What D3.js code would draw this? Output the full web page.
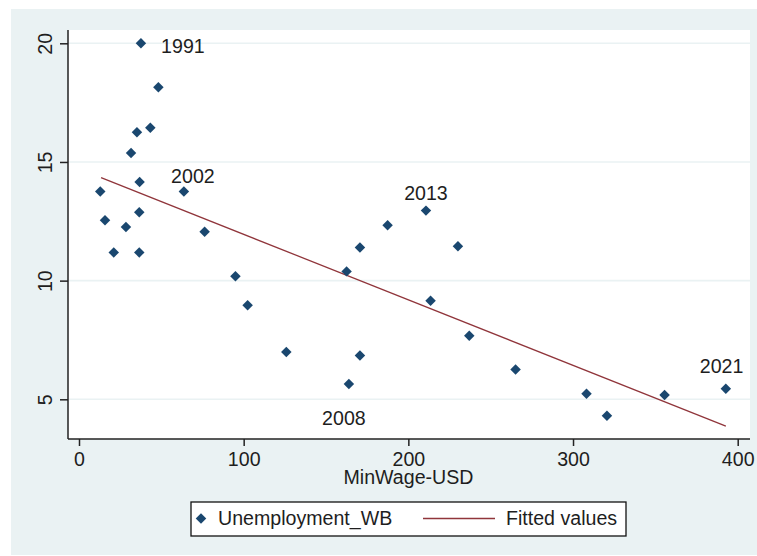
<!DOCTYPE html>
<html>
<head>
<meta charset="utf-8">
<script src="https://cdn.jsdelivr.net/npm/d3@7"></script>
<style>
  body { margin: 0; background: #fff; }
  text { font-family: "Liberation Sans", Arial, sans-serif; }
</style>
</head>
<body>
<div id="chart"></div>
<script>
// data: one point per year 1991..2021
var years = d3.range(1991, 2022);
var minWage = [37.6, 48.2, 43.3, 35.2, 31.6, 36.8, 12.9, 15.8, 36.6, 28.5, 21.1, 63.7,
               36.6, 76.3, 95.0, 102.4, 125.9, 163.9, 162.5, 170.6, 170.6, 187.4, 210.7,
               230.1, 213.5, 237.0, 265.1, 308.2, 320.6, 355.6, 392.8];
var unemployment = [20.0, 18.15, 16.44, 16.25, 15.38, 14.16, 13.76, 12.54, 12.88, 12.26, 11.19, 13.76,
                    11.19, 12.06, 10.18, 8.96, 6.99, 5.64, 10.39, 6.85, 11.4, 12.33, 12.95,
                    11.45, 9.15, 7.68, 6.26, 5.23, 4.31, 5.18, 5.44];
var fitX = [13.4, 392.8];
var fitY = [14.34, 3.87];
var xTicks = [0, 100, 200, 300, 400];
var yTicks = [5, 10, 15, 20];
var labelYears = [1991, 2002, 2008, 2013, 2021];

var W = 757, H = 556,
    plot = {left: 68, top: 30, right: 750, bottom: 439},
    bg = "#eaf2f3", navy = "#1a476f", maroon = "#90353b", fs = 19.6;

var svg = d3.select("#chart").append("svg").attr("width", W).attr("height", H);

//outer background
svg.append("rect").attr("x", 11).attr("y", 9).attr("width", W - 11).attr("height", H - 10).attr("fill", bg);
//plot region
svg.append("rect").attr("x", plot.left).attr("y", plot.top)
   .attr("width", plot.right - plot.left).attr("height", plot.bottom - plot.top).attr("fill", "#fff");

var x = d3.scaleLinear().domain([0, 400]).range([79, 737.7]);
var y = d3.scaleLinear().domain([5, 20]).range([399.3, 43.3]);

//gridlines
svg.selectAll(".grid").data(yTicks).enter().append("line")
   .attr("x1", plot.left).attr("x2", plot.right)
   .attr("y1", function(d) { return y(d); }).attr("y2", function(d) { return y(d); })
   .attr("stroke", bg).attr("stroke-width", 1.6);

//axes
var xAxis = svg.append("g").attr("transform", "translate(0," + plot.bottom + ")")
   .call(d3.axisBottom(x).tickValues(xTicks).tickSize(7).tickPadding(5).tickFormat(d3.format("d")));
xAxis.select(".domain").attr("d", "M" + plot.left + ",0H" + plot.right);
var yAxis = svg.append("g").attr("transform", "translate(" + plot.left + ",0)")
   .call(d3.axisLeft(y).tickValues(yTicks).tickSize(8).tickFormat(d3.format("d")));
yAxis.select(".domain").attr("d", "M0," + plot.top + "V" + plot.bottom);
[xAxis, yAxis].forEach(function(a) {
  a.selectAll("path, line").attr("stroke", "#222").attr("stroke-width", 1.5);
  a.selectAll("text").attr("fill", "#1e1e1e").style("font-size", fs + "px")
   .style("font-family", "'Liberation Sans', Arial, sans-serif");
});
xAxis.selectAll("text").attr("y", 13).attr("dy", "0.71em");
yAxis.selectAll("text")
   .attr("x", null).attr("dy", null).attr("text-anchor", "middle")
   .attr("transform", "translate(-16.3,0) rotate(-90)");

//axis title
svg.append("text").attr("x", 408.5).attr("y", 484).attr("text-anchor", "middle")
   .attr("fill", "#1e1e1e").style("font-size", fs + "px").text("MinWage-USD");

//fitted line
svg.append("line")
   .attr("x1", x(fitX[0])).attr("y1", y(fitY[0])).attr("x2", x(fitX[1])).attr("y2", y(fitY[1]))
   .attr("stroke", maroon).attr("stroke-width", 1.3);

//points
var diamond = d3.symbol().type(d3.symbolDiamond2).size(70);
svg.selectAll(".pt").data(years).enter().append("path")
   .attr("d", diamond)
   .attr("transform", function(d, i) { return "translate(" + x(minWage[i]) + "," + y(unemployment[i]) + ")"; })
   .attr("fill", navy);

//year labels; offsets from the marker (middle of text, baseline)
var labelOffset = {1991: [42, 10], 2002: [9, -8], 2008: [-5, 41], 2013: [0, -10.7], 2021: [-4.3, -16]};
svg.selectAll(".lab").data(labelYears).enter().append("text")
   .attr("x", function(d) { var i = years.indexOf(d); return x(minWage[i]) + labelOffset[d][0]; })
   .attr("y", function(d) { var i = years.indexOf(d); return y(unemployment[i]) + labelOffset[d][1]; })
   .attr("text-anchor", "middle").attr("fill", "#1e1e1e").style("font-size", fs + "px")
   .text(function(d) { return d; });

//legend
var legend = svg.append("g");
legend.append("rect").attr("x", 191).attr("y", 502).attr("width", 435).attr("height", 34)
   .attr("fill", "#fff").attr("stroke", "#111").attr("stroke-width", 1.3);
legend.append("path").attr("d", diamond).attr("transform", "translate(201,518.5)").attr("fill", navy);
legend.append("text").attr("x", 218).attr("y", 525).attr("fill", "#1e1e1e").style("font-size", fs + "px")
   .text("Unemployment_WB");
legend.append("line").attr("x1", 423).attr("x2", 495).attr("y1", 518.5).attr("y2", 518.5)
   .attr("stroke", maroon).attr("stroke-width", 1.3);
legend.append("text").attr("x", 506).attr("y", 525).attr("fill", "#1e1e1e").style("font-size", fs + "px")
   .text("Fitted values");
</script>
</body>
</html>
